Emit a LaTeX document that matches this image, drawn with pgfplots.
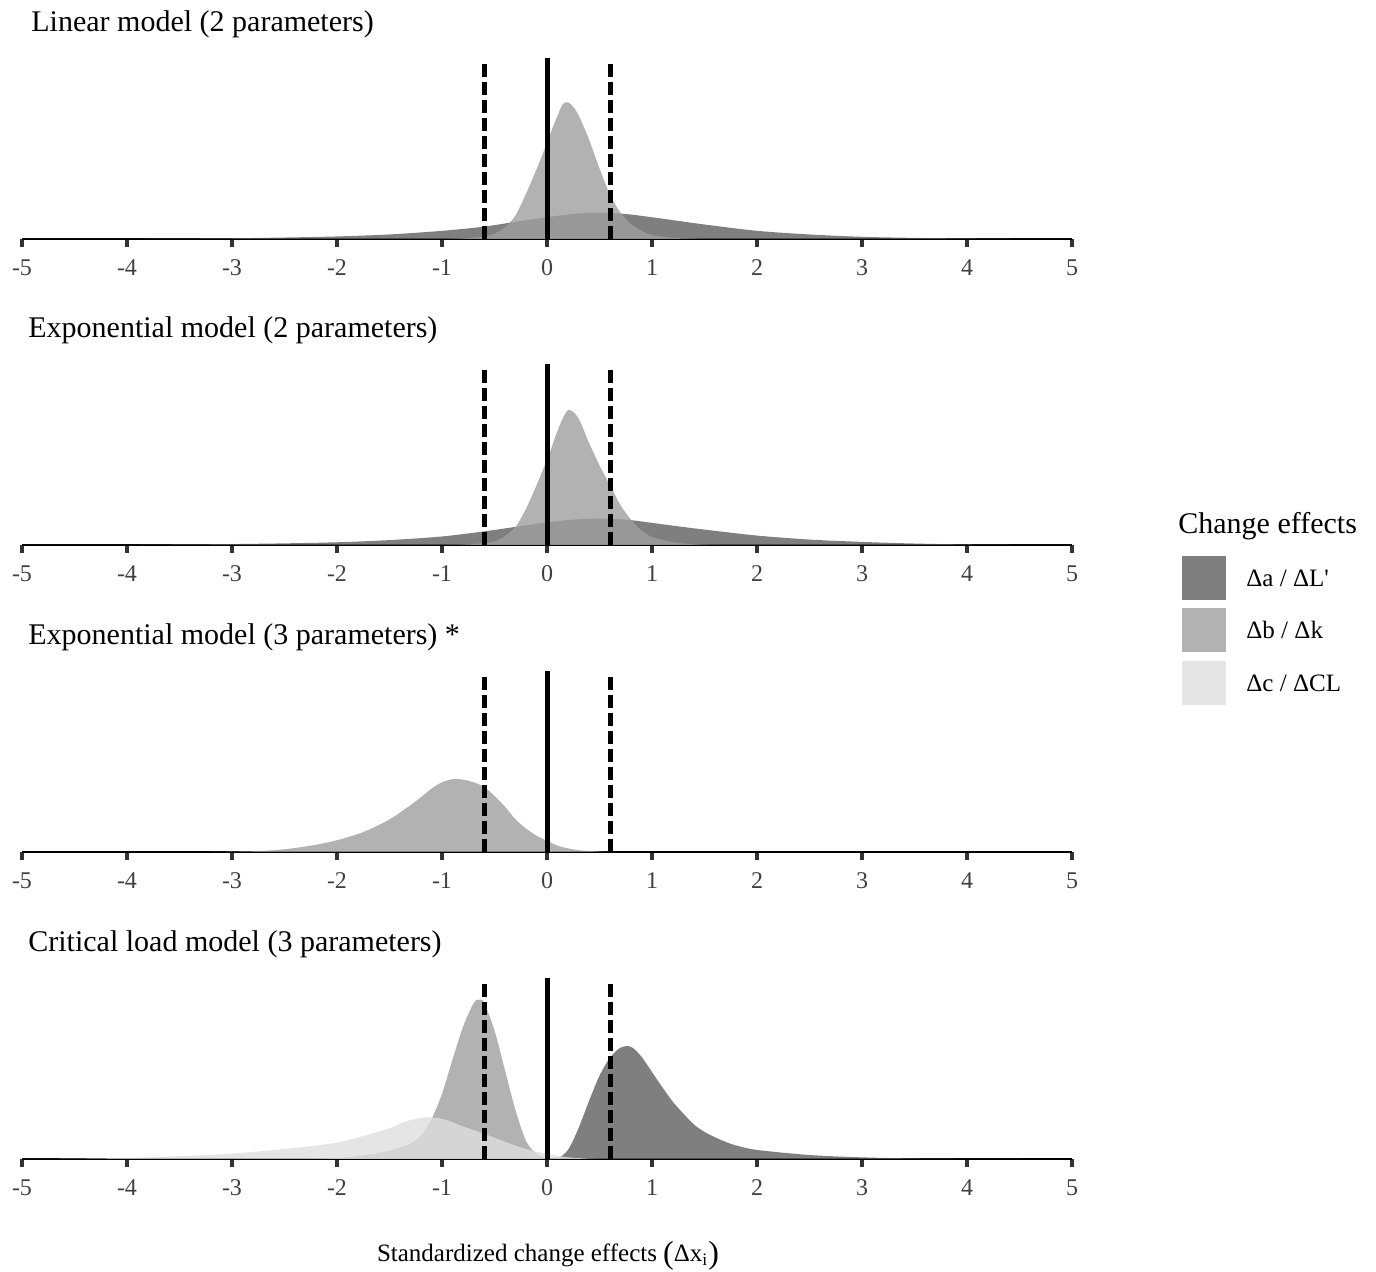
\documentclass[border=0pt]{standalone}
\usepackage{fontspec}
\setmainfont{Liberation Serif}
\usepackage{pgfplots}
\pgfplotsset{compat=1.18}

\definecolor{effA}{HTML}{5F5F5F}
\definecolor{effB}{HTML}{9F9F9F}
\definecolor{effC}{HTML}{DEDEDE}

\pgfplotsset{
  panel/.style={
    scale only axis, width=525pt, height=90.5pt,
    anchor=south west,
    xmin=-5, xmax=5, ymin=0, ymax=1,
    axis x line=bottom, axis y line=none,
    axis line style={line width=1.4pt, -},
    xtick={-5,...,5},
    xticklabels={-5,-4,-3,-2,-1,0,1,2,3,4,5},
    tick align=outside, major tick length=4pt,
    xtick style={line width=2.2pt, black!80},
    xticklabel style={font=\fontsize{12}{12}\selectfont, text=black!75,
      text height=8.5pt, text depth=0pt, yshift=-2pt},
    ytick=\empty, clip=false,
  },
  dens/.style={draw=none, fill=#1, fill opacity=0.8, smooth},
}
\newcommand{\refs}{%
  \addplot[line width=2.5pt, dash pattern=on 6.5pt off 2.5pt] coordinates {(-0.6,0) (-0.6,0.99)};
  \addplot[line width=2.5pt, dash pattern=on 6.5pt off 2.5pt] coordinates {(0.6,0) (0.6,0.99)};
  \addplot[line width=2.5pt] coordinates {(0,0) (0,1)};
}

\begin{document}
\begin{tikzpicture}
\useasboundingbox (0,0) rectangle (688pt,636pt);

% Linear model
\begin{axis}[panel, at={(11pt,516.5pt)}]
\addplot[dens=effA] coordinates {(-5,0) (-4,0.001) (-3.5,0.002) (-3,0.004) (-2.5,0.008) (-2,0.014) (-1.5,0.025) (-1,0.045) (-0.6,0.068) (-0.3,0.095) (0,0.12) (0.25,0.138) (0.5,0.145) (0.75,0.138) (1,0.12) (1.25,0.1) (1.5,0.08) (2,0.045) (2.5,0.025) (3,0.012) (3.5,0.006) (4,0.003) (4.5,0.001) (5,0)} \closedcycle;
\addplot[dens=effB] coordinates {(-1,0) (-0.8,0.003) (-0.6,0.012) (-0.5,0.03) (-0.4,0.065) (-0.3,0.13) (-0.2,0.25) (-0.1,0.385) (0,0.53) (0.05,0.61) (0.1,0.68) (0.15,0.745) (0.2,0.755) (0.25,0.73) (0.3,0.685) (0.35,0.62) (0.4,0.55) (0.5,0.39) (0.6,0.245) (0.7,0.145) (0.8,0.082) (0.9,0.045) (1,0.022) (1.2,0.006) (1.5,0)} \closedcycle;
\refs
\end{axis}

% Exponential model, 2 parameters
\begin{axis}[panel, at={(11pt,363.5pt)}]
\addplot[dens=effA] coordinates {(-5,0) (-4,0.001) (-3.5,0.003) (-3,0.005) (-2.5,0.009) (-2,0.015) (-1.5,0.027) (-1,0.047) (-0.6,0.075) (-0.3,0.1) (0,0.125) (0.25,0.14) (0.45,0.146) (0.75,0.14) (1,0.122) (1.25,0.103) (1.5,0.085) (2,0.052) (2.5,0.03) (3,0.017) (3.5,0.008) (4,0.003) (4.5,0.001) (5,0)} \closedcycle;
\addplot[dens=effB] coordinates {(-0.9,0) (-0.7,0.005) (-0.5,0.02) (-0.4,0.05) (-0.3,0.1) (-0.2,0.2) (-0.1,0.33) (0,0.47) (0.05,0.55) (0.1,0.63) (0.15,0.7) (0.2,0.745) (0.25,0.735) (0.3,0.7) (0.35,0.635) (0.4,0.565) (0.5,0.44) (0.6,0.33) (0.7,0.22) (0.8,0.14) (0.9,0.08) (1,0.045) (1.2,0.015) (1.4,0.004) (1.6,0)} \closedcycle;
\refs
\end{axis}

% Exponential model, 3 parameters
\begin{axis}[panel, at={(11pt,210pt)}]
\addplot[dens=effB] coordinates {(-3.2,0) (-2.75,0.005) (-2.5,0.015) (-2.25,0.035) (-2,0.065) (-1.75,0.11) (-1.5,0.18) (-1.25,0.28) (-1.1,0.35) (-1,0.385) (-0.9,0.402) (-0.8,0.4) (-0.7,0.385) (-0.6,0.36) (-0.5,0.31) (-0.4,0.25) (-0.3,0.18) (-0.2,0.13) (-0.1,0.09) (0,0.062) (0.1,0.035) (0.2,0.02) (0.3,0.01) (0.45,0.004) (0.6,0)} \closedcycle;
\refs
\end{axis}

% Critical load model
\begin{axis}[panel, at={(11pt,56.5pt)}]
\addplot[dens=effA] coordinates {(0,0) (0.1,0.004) (0.2,0.05) (0.3,0.17) (0.4,0.32) (0.5,0.46) (0.6,0.56) (0.7,0.615) (0.8,0.62) (0.9,0.565) (1,0.48) (1.1,0.395) (1.2,0.315) (1.3,0.25) (1.4,0.19) (1.5,0.15) (1.6,0.12) (1.7,0.095) (1.8,0.075) (2,0.05) (2.5,0.022) (3,0.009) (3.5,0.003) (4,0.001) (4.5,0)} \closedcycle;
\addplot[dens=effB] coordinates {(-2.3,0) (-2,0.005) (-1.75,0.02) (-1.5,0.046) (-1.3,0.085) (-1.2,0.13) (-1.1,0.22) (-1,0.36) (-0.9,0.55) (-0.8,0.73) (-0.7,0.86) (-0.65,0.88) (-0.6,0.865) (-0.5,0.71) (-0.4,0.49) (-0.3,0.27) (-0.2,0.1) (-0.1,0.028) (0,0.005) (0.1,0)} \closedcycle;
\addplot[dens=effC] coordinates {(-5,0) (-4.5,0.002) (-4,0.006) (-3.5,0.015) (-3,0.03) (-2.5,0.055) (-2,0.09) (-1.7,0.135) (-1.5,0.17) (-1.4,0.195) (-1.3,0.215) (-1.2,0.228) (-1.1,0.23) (-1,0.222) (-0.9,0.203) (-0.8,0.18) (-0.6,0.14) (-0.4,0.095) (-0.2,0.055) (0,0.028) (0.2,0.01) (0.4,0.002) (0.6,0)} \closedcycle;
\refs
\end{axis}

% panel titles
\begin{scope}[every node/.style={anchor=base west, inner sep=0pt, font=\fontsize{15}{15}\selectfont}]
\node at (15.5pt,620pt) {Linear model (2 parameters)};
\node at (14pt,467pt) {Exponential model (2 parameters)};
\node at (14pt,313.5pt) {Exponential model (3 parameters) *};
\node at (14pt,160pt) {Critical load model (3 parameters)};
\end{scope}

% x label
\node[anchor=base, inner sep=0pt, font=\fontsize{12.5}{12.5}\selectfont] at (274pt,5pt)
  {Standardized change effects \raisebox{-1pt}{\fontsize{16}{16}\selectfont(}Δx\textsubscript{i}\raisebox{-1pt}{\fontsize{16}{16}\selectfont)}};

% legend
\node[anchor=base west, inner sep=0pt, font=\fontsize{15}{15}\selectfont] at (589pt,369pt) {Change effects};
\fill[effA, fill opacity=0.8] (591pt,336pt) rectangle (613pt,358pt);
\fill[effB, fill opacity=0.8] (591pt,310pt) rectangle (613pt,332pt);
\fill[effC, fill opacity=0.8] (591pt,283.5pt) rectangle (613pt,305.5pt);
\begin{scope}[every node/.style={anchor=west, inner sep=0pt, font=\fontsize{12.5}{12.5}\selectfont}]
\node at (623pt,347pt) {Δa / ΔL\textquotesingle};
\node at (623pt,321pt) {Δb / Δk};
\node at (623pt,294.5pt) {Δc / ΔCL};
\end{scope}
\end{tikzpicture}
\end{document}
